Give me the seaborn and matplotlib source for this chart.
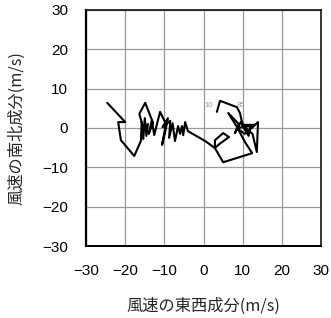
import matplotlib
matplotlib.use("Agg")
import matplotlib.pyplot as plt
import seaborn as sns
import pandas as pd

# wind components (m/s), in the order the line is drawn
u_east = [-24.6, -20.0, -21.8, -21.1, -17.7, -16.0, -15.8, -15.4, -15.0, -14.6,
          -14.2, -15.4, -16.4, -14.9, -12.9, -14.0, -13.2, -12.6, -11.9, -11.1,
          -9.6, -10.6, -9.8, -9.1, -10.5, -8.5, -8.8, -7.9, -7.3, -6.5,
          -6.0, -5.5, -5.2, -4.7, -4.0, 0.4, 2.9, 2.9, 5.0, 6.5,
          4.0, 2.9, 5.0, 12.4, 10.6, 8.5, 6.3, 9.0, 8.0, 9.5,
          11.5, 12.0, 8.5, 10.5, 13.9, 13.6, 12.5, 9.8, 13.1, 11.0,
          9.8, 9.3, 8.5, 4.2, 3.4]
v_north = [6.4, 1.5, 1.5, -3.1, -7.1, -3.3, 1.5, -2.8, 2.5, -2.0,
           1.0, 0.0, 3.6, 6.4, 1.3, -1.5, 2.0, -1.8, 1.0, 4.1,
           1.0, -4.3, -1.0, 2.5, 0.2, 1.8, -2.5, 1.2, -3.3, 0.5,
           -1.5, 0.5, -1.8, 1.5, -0.8, -3.3, -5.1, -3.1, -1.3, -2.3,
           -4.1, -5.1, -8.7, -6.4, -3.6, 0.3, 3.8, 1.0, -1.3, 1.5,
           -2.0, 0.5, 0.0, -1.5, 1.5, -6.1, -1.5, 0.8, 0.8, -1.0,
           1.5, 3.8, 5.3, 6.9, 4.1]

level_labels = ["10", "85"]
label_u = [1.4, 9.6]
label_v = [5.8, 5.8]

ticks = [-30, -20, -10, 0, 10, 20, 30]
xlabel = "風速の東西成分(m/s)"
ylabel = "風速の南北成分(m/s)"

df = pd.DataFrame({"order": range(len(u_east)), "u": u_east, "v": v_north})

sns.set_style("white")
plt.rcParams["font.family"] = ["Liberation Sans", "Noto Sans CJK JP", "DejaVu Sans"]

fig = plt.figure(figsize=(3.31, 3.18), dpi=100)
ax = fig.add_axes([0.26, 0.226, 0.71, 0.743])

sns.lineplot(data=df, x="u", y="v", sort=False, estimator=None, color="black",
             linewidth=1.5, ax=ax)

for t, x, y in zip(level_labels, label_u, label_v):
    ax.text(x, y, t, fontsize=5.5, color="#999999", ha="center", va="center")

ax.set_xlim(-30, 30)
ax.set_ylim(-30, 30)
ax.set_xticks(ticks)
ax.set_yticks(ticks)
ax.set_xticklabels([str(t).replace("-", "\u2212") for t in ticks])
ax.set_yticklabels([str(t).replace("-", "\u2212") for t in ticks])
ax.grid(True, color="#9a9a9a", linewidth=0.9)
ax.set_axisbelow(True)
ax.tick_params(axis="both", direction="inout", length=10, width=0.9, color="black",
               labelsize=11, pad=8, labelcolor="black")
ax.spines["left"].set_linewidth(1.6)
ax.spines["bottom"].set_linewidth(1.4)
ax.spines["top"].set_linewidth(1.1)
ax.spines["right"].set_linewidth(1.1)
for s in ax.spines.values():
    s.set_color("black")

ax.set_xlabel(xlabel, fontsize=11.7, family=["Noto Sans CJK JP", "DejaVu Sans"], labelpad=14)
ax.set_ylabel(ylabel, fontsize=11.7, family=["Noto Sans CJK JP", "DejaVu Sans"], labelpad=12)

fig.savefig("out.png", dpi=100)
